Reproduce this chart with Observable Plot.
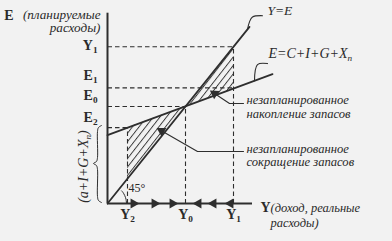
<!DOCTYPE html>
<html><head><meta charset="utf-8">
<script src="https://cdn.jsdelivr.net/npm/d3@7"></script>
<script src="https://cdn.jsdelivr.net/npm/@observablehq/plot@0.6"></script>
<style>
html,body{margin:0;padding:0;background:#f2f2f2;}
svg text{fill:#2a2a2a;}
</style></head><body><div id="chart"></div>
<script>
// ---- data ----
const incomeNames = ["Y_2", "Y_0", "Y_1"];      // income levels on the horizontal axis
const incomeValues = [20, 78, 126];
const expNames = ["Y_1", "E_1", "E_0", "E_2"];  // planned-expenditure levels on the vertical axis
const expValues = [126, 93, 78, 61];
const expReach = [126, 126, 78, 20];            // how far each horizontal guide runs
const guideTops = [61, 78, 126];                // how high each vertical guide runs
const diagonal = [[0, 0], [142, 142]];          // Y = E
const aggregate = [[0, 55], [165, 104]];        // E = C + I + G + Xn
const hatchLeft = [{Y: 20, lo: 20, hi: 61}, {Y: 78, lo: 78, hi: 78}];
const hatchRight = [{Y: 78, lo: 78, hi: 78}, {Y: 126, lo: 92, hi: 126}];
const arrowsRight = [26, 47, 65];
const arrowsLeft = [91, 106, 123];
const axisTop = 153, axisRight = 145;

// annotation geometry
const leaderYE = [[140, 140], [142, 146], [145, 150], [155, 151]];
const leaderE = [[147, 98.7], [150, 111.7], [160, 112.5]];
const leaderUp = [[104, 90], [122, 80.4], [136, 80.4]];
const leaderDown = [[50, 60.3], [90, 41.8], [136, 41.8]];
const brace = [[-6, 62.7], [-9, 61.1], [-10, 57.9], [-10, 37], [-11, 33.8], [-14, 32.2], [-11, 30.5], [-10, 27.3], [-10, 5.6], [-9, 2.4], [-6, 0.8]];
const arc = [[19, 0], [18.5, 3.46], [17.2, 6.43], [15.4, 9.0], [14.1, 10.2]];

const ink = "#2e2e2e";
const serif = '"Liberation Serif", "Times New Roman", serif';
const dash = "4.5,3";

const hGuides = expValues.map((v, i) => ({x1: 0, x2: expReach[i], y: v}));
const vGuides = incomeValues.map((v, i) => ({x: v, y2: guideTops[i]}));
const xy = a => a.map(([x, y]) => ({x, y}));
const T = (o) => Object.assign({fontFamily: serif, fill: "#2a2a2a"}, o);

const chart = Plot.plot({
  width: 392, height: 241, margin: 0,
  x: {domain: [0, axisRight], range: [107, 252], axis: null},
  y: {domain: [0, axisTop], range: [203, 12.7], axis: null},
  style: {background: "transparent", fontFamily: serif, color: ink},
  marks: [
    Plot.areaY(hatchLeft, {x: "Y", y1: "lo", y2: "hi", fill: "url(#hatch)"}),
    Plot.areaY(hatchRight, {x: "Y", y1: "lo", y2: "hi", fill: "url(#hatch)"}),
    Plot.link(hGuides, {x1: "x1", x2: "x2", y1: "y", y2: "y", stroke: ink, strokeWidth: 1.1, strokeDasharray: dash}),
    Plot.link(vGuides, {x1: "x", x2: "x", y1: () => 0, y2: "y2", stroke: ink, strokeWidth: 1.1, strokeDasharray: dash}),
    Plot.line(xy(diagonal), {x: "x", y: "y", stroke: ink, strokeWidth: 1.8}),
    Plot.line(xy(aggregate), {x: "x", y: "y", stroke: ink, strokeWidth: 1.8}),
    Plot.ruleX([0], {y1: 0, y2: axisTop, stroke: ink, strokeWidth: 2}),
    Plot.ruleY([0], {x1: 0, x2: axisRight, stroke: ink, strokeWidth: 2}),
    Plot.dot(arrowsRight, {x: d => d, y: () => 0, symbol: "triangle", r: 3.8, rotate: 90, fill: ink, stroke: null}),
    Plot.dot(arrowsLeft, {x: d => d, y: () => 0, symbol: "triangle", r: 3.8, rotate: -90, fill: ink, stroke: null}),
    Plot.line(xy(leaderYE), {x: "x", y: "y", stroke: ink, strokeWidth: 1.1, curve: "catmull-rom"}),
    Plot.line(xy(leaderE), {x: "x", y: "y", stroke: ink, strokeWidth: 1.1, curve: "catmull-rom"}),
    Plot.line(xy(leaderUp), {x: "x", y: "y", stroke: ink, strokeWidth: 1.1}),
    Plot.line(xy(leaderDown), {x: "x", y: "y", stroke: ink, strokeWidth: 1.1}),
    Plot.dot([[107, 88.4]], {x: d => d[0], y: d => d[1], symbol: "triangle", r: 3.6, rotate: -56, fill: ink, stroke: null}),
    Plot.dot([[54, 58.4]], {x: d => d[0], y: d => d[1], symbol: "triangle", r: 3.6, rotate: -60, fill: ink, stroke: null}),
    Plot.line(xy(brace), {x: "x", y: "y", stroke: ink, strokeWidth: 1, curve: "catmull-rom"}),
    Plot.line(xy(arc), {x: "x", y: "y", stroke: ink, strokeWidth: 1, curve: "catmull-rom"}),
    // tick labels
    Plot.text(expNames, T({x: () => 0, y: (d, i) => expValues[i], text: d => d, textAnchor: "end", dx: -10, fontWeight: "bold", fontSize: 14})),
    Plot.text(incomeNames, T({x: (d, i) => incomeValues[i], y: () => 0, text: d => d, textAnchor: "middle", dy: 11, fontWeight: "bold", fontSize: 14})),
    // axis titles
    Plot.text(["E"], T({x: () => 0, y: () => axisTop, text: d => d, textAnchor: "end", dx: -94, dy: 2, fontWeight: "bold", fontSize: 14})),
    Plot.text(["(планируемые"], T({x: () => 0, y: () => axisTop, text: d => d, textAnchor: "end", dx: -7, dy: 1.5, fontStyle: "italic", fontSize: 13.2, letterSpacing: 0.3})),
    Plot.text(["расходы)"], T({x: () => 0, y: () => axisTop, text: d => d, textAnchor: "end", dx: -7, dy: 15, fontStyle: "italic", fontSize: 13.2, letterSpacing: 0.3})),
    Plot.text(["Y"], T({x: () => axisRight, y: () => 0, text: d => d, textAnchor: "start", dx: 8, dy: 4, fontWeight: "bold", fontSize: 14})),
    Plot.text(["(доход, реальные"], T({x: () => axisRight, y: () => 0, text: d => d, textAnchor: "start", dx: 18, dy: 4, fontStyle: "italic", fontSize: 12.5, letterSpacing: 0.2})),
    Plot.text(["расходы)"], T({x: () => axisRight, y: () => 0, text: d => d, textAnchor: "start", dx: 18, dy: 19, fontStyle: "italic", fontSize: 12.5, letterSpacing: 0.2})),
    // annotations
    Plot.text(["Y=E"], T({x: () => 160, y: () => 155.1, text: d => d, textAnchor: "start", fontStyle: "italic", fontSize: 13.5})),
    Plot.text(["E=C+I+G+X_n"], T({x: () => 161, y: () => 120.6, text: d => d, textAnchor: "start", fontStyle: "italic", fontSize: 14})),
    Plot.text(["незапланированное\nнакопление запасов"], T({x: () => 139, y: () => 78, text: d => d, textAnchor: "start", fontStyle: "italic", fontSize: 12.6, letterSpacing: 0.45, lineHeight: 1.07})),
    Plot.text(["незапланированное\nсокращение запасов"], T({x: () => 139, y: () => 39, text: d => d, textAnchor: "start", fontStyle: "italic", fontSize: 12.6, letterSpacing: 0.45, lineHeight: 1.07})),
    Plot.text(["(a+I+G+X_n)"], T({x: () => -24, y: () => 29.7, text: d => d, rotate: -90, fontStyle: "italic", fontSize: 14})),
    Plot.text(["45°"], T({x: () => 21, y: () => 12.1, text: d => d, textAnchor: "start", fontSize: 12}))
  ]
});

const svg = chart;
const ns = "http://www.w3.org/2000/svg";
const defs = document.createElementNS(ns, "defs");
defs.innerHTML = '<pattern id="hatch" patternUnits="userSpaceOnUse" width="5.2" height="5.2" patternTransform="rotate(38)"><line x1="0.5" y1="0" x2="0.5" y2="5.2" stroke="#2e2e2e" stroke-width="0.9"/></pattern>';
svg.prepend(defs);

// subscripts: "X_n" -> X with a lowered small n
svg.querySelectorAll("text").forEach(t => {
  const targets = t.querySelector("tspan") ? Array.from(t.querySelectorAll("tspan")) : [t];
  targets.forEach(el => {
    const s = el.textContent;
    if (!s.includes("_")) return;
    const parts = s.split(/_(\w)/);
    el.textContent = "";
    parts.forEach((p, i) => {
      if (p === "") return;
      const ts = document.createElementNS(ns, "tspan");
      ts.textContent = p;
      if (i % 2 === 1) {
        ts.setAttribute("font-size", "0.66em");
        ts.setAttribute("dy", "3");
      } else if (i > 0) {
        ts.setAttribute("dy", "-3");
      }
      el.appendChild(ts);
    });
  });
});
// E-axis labels sit a little above their dashed guides
const expOffsets = [-1, -12, -11, -10];
const expTextGroup = svg.querySelectorAll("g[aria-label='text']")[0];
if (expTextGroup) expTextGroup.querySelectorAll("text").forEach((t, i) => {
  t.setAttribute("transform", (t.getAttribute("transform") || "") + ` translate(0,${expOffsets[i]})`);
});
document.getElementById("chart").appendChild(chart);
</script>
</body></html>
